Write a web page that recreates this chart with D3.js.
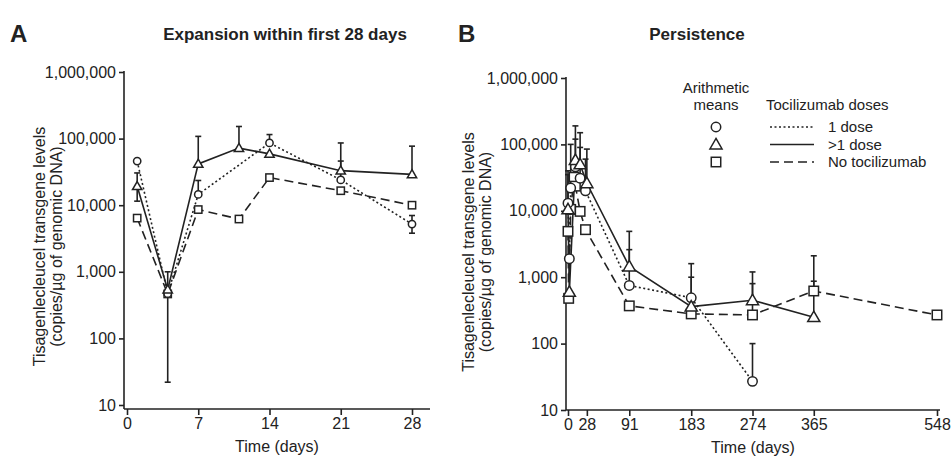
<!DOCTYPE html><html><head><meta charset="utf-8"><script src="https://cdn.jsdelivr.net/npm/d3@7"></script>
<style>body{margin:0;background:#fff}text{font-family:Arial,"Liberation Sans",sans-serif;fill:#222}</style></head><body>
<svg id="c" width="951" height="465"></svg>
<script>
const yTicks=[10,100,1000,10000,100000,1000000];
const xTicksA=[0,7,14,21,28];
const xTicksB=[0,28,91,183,274,365,548];
// Panel A: [day, mean, upper, lower]
const A_one=[[1,46000,null,null],[4,470,null,null],[7,14500,23500,null],[14,86000,115000,null],[21,24000,46000,null],[28,5200,7000,3800]];
const A_multi=[[1,19300,30500,11500],[4,540,null,null],[7,41700,108000,null],[11,72000,152000,null],[14,59000,null,null],[21,33000,86000,null],[28,29000,77000,null]];
const A_none=[[1,6400,null,null],[4,465,1000,22],[7,8600,null,null],[11,6200,null,null],[14,26000,null,null],[21,16500,null,null],[28,10000,null,null]];
// Panel B
const B_one=[[0,13000,40000,null],[2,1900,null,null],[4,22000,100000,null],[11,46000,120000,null],[18,31000,90000,null],[26,20000,60000,null],[91,750,2600,null],[183,490,1000,null],[274,27,100,null]];
const B_multi=[[0,10500,35000,null],[2,600,null,null],[11,58000,190000,null],[18,50000,150000,null],[28,26000,85000,null],[91,1450,4900,null],[183,360,1600,null],[274,450,1200,null],[365,250,870,null]];
const B_none=[[0,4900,null,null],[1,480,null,null],[4,10500,null,null],[9,32000,null,null],[11,23500,null,null],[18,9800,null,null],[26,5200,null,null],[91,370,null,null],[183,280,null,null],[274,270,800,null],[365,620,2100,null],[548,270,null,null]];

const svg=d3.select("#c");
const styles={one:{dash:"2,2.5",sym:"circle"},multi:{dash:null,sym:"triangle"},none:{dash:"9,5",sym:"square"}};
function sym(g,type,x,y,s){
  s=s||1;
  if(type==="circle")g.append("circle").attr("cx",x).attr("cy",y).attr("r",4.3*s);
  else if(type==="square")g.append("rect").attr("x",x-4.3*s).attr("y",y-4.3*s).attr("width",8.6*s).attr("height",8.6*s);
  else g.append("path").attr("d",`M${x},${y-5.5*s}L${x+5.5*s},${y+4*s}L${x-5.5*s},${y+4*s}Z`);
}
function panel(o){
  const x=d3.scaleLinear().domain(o.xd).range(o.xr);
  const y=d3.scaleLog().domain([10,1000000]).range(o.yr);
  const g=svg.append("g");
  const ya=g.append("g").attr("transform",`translate(${o.ax},0)`).call(d3.axisLeft(y).tickValues(yTicks).tickFormat(d3.format(",")).tickSize(5).tickSizeOuter(0));
  const xa=g.append("g").attr("transform",`translate(0,${o.ay})`).call(d3.axisBottom(x).tickValues(o.xt).tickSize(6).tickSizeOuter(0));
  ya.select(".domain").attr("d",`M0,${o.yr[1]-1}V${o.ay}`);
  xa.select(".domain").attr("d",`M${o.ax},0H${o.axEnd}`);
  [ya,xa].forEach(a=>{a.selectAll("path,line").attr("stroke","#222").attr("stroke-width",1.6);a.selectAll("text").style("font-size","16px").attr("fill","#222");});
  g.append("text").attr("x",(o.ax+o.axEnd)/2).attr("y",o.ay+43).attr("text-anchor","middle").style("font-size","16px").text("Time (days)");
  const yl=g.append("text").attr("transform",`translate(${o.ylx},${(o.yr[0]+o.yr[1])/2+8}) rotate(-90)`).attr("text-anchor","middle").style("font-size","16px");
  yl.append("tspan").attr("x",0).attr("dy",0).text("Tisagenlecleucel transgene levels");
  yl.append("tspan").attr("x",0).attr("dy",17).text("(copies/µg of genomic DNA)");
  const line=d3.line().x(d=>x(d[0])).y(d=>y(d[1]));
  o.series.forEach(([data,key])=>{
    const s=styles[key];
    const eg=g.append("g").attr("stroke","#222").attr("stroke-width",1.6);
    data.forEach(d=>{[d[2],d[3]].forEach(v=>{if(v==null)return;
      eg.append("line").attr("x1",x(d[0])).attr("x2",x(d[0])).attr("y1",y(d[1])).attr("y2",y(v));
      eg.append("line").attr("x1",x(d[0])-3).attr("x2",x(d[0])+3).attr("y1",y(v)).attr("y2",y(v));});});
    g.append("path").attr("d",line(data)).attr("fill","none").attr("stroke","#222").attr("stroke-width",1.6).attr("stroke-dasharray",s.dash);
  });
  o.series.forEach(([data,key])=>{
    const sg=g.append("g").attr("fill","#fff").attr("stroke","#222").attr("stroke-width",1.5);
    data.forEach(d=>sym(sg,styles[key].sym,x(d[0]),y(d[1]),o.ss));
  });
}
panel({xd:[0,28],xr:[127,412],yr:[405,72],ax:124,ay:409,axEnd:430,xt:xTicksA,ylx:45,ss:0.85,series:[[A_none,"none"],[A_one,"one"],[A_multi,"multi"]]});
panel({xd:[0,548],xr:[568,937],yr:[410,78],ax:566,ay:410,axEnd:940,xt:xTicksB,ylx:474,ss:1.1,series:[[B_none,"none"],[B_one,"one"],[B_multi,"multi"]]});
svg.append("text").attr("x",10).attr("y",42).style("font-size","24px").style("font-weight","bold").text("A");
svg.append("text").attr("x",458).attr("y",42).style("font-size","24px").style("font-weight","bold").text("B");
svg.append("text").attr("x",285).attr("y",40).attr("text-anchor","middle").style("font-size","17px").style("font-weight","bold").text("Expansion within first 28 days");
svg.append("text").attr("x",697).attr("y",40).attr("text-anchor","middle").style("font-size","17px").style("font-weight","bold").text("Persistence");
// legend
const lg=svg.append("g");
lg.append("text").attr("x",716).attr("y",93).attr("text-anchor","middle").style("font-size","15px").text("Arithmetic");
lg.append("text").attr("x",716).attr("y",110).attr("text-anchor","middle").style("font-size","15px").text("means");
lg.append("text").attr("x",766).attr("y",110).style("font-size","15px").text("Tocilizumab doses");
const sgl=lg.append("g").attr("fill","#fff").attr("stroke","#222").attr("stroke-width",1.5);
["one","multi","none"].forEach((k,i)=>{
  const yy=127+i*17.5;
  sym(sgl,styles[k].sym,716,yy,1.1);
  lg.append("line").attr("x1",770).attr("x2",814).attr("y1",yy).attr("y2",yy).attr("stroke","#222").attr("stroke-width",1.5).attr("stroke-dasharray",styles[k].dash);
  lg.append("text").attr("x",828).attr("y",yy+5).style("font-size","15px").text(["1 dose",">1 dose","No tocilizumab"][i]);
});
</script></body></html>
